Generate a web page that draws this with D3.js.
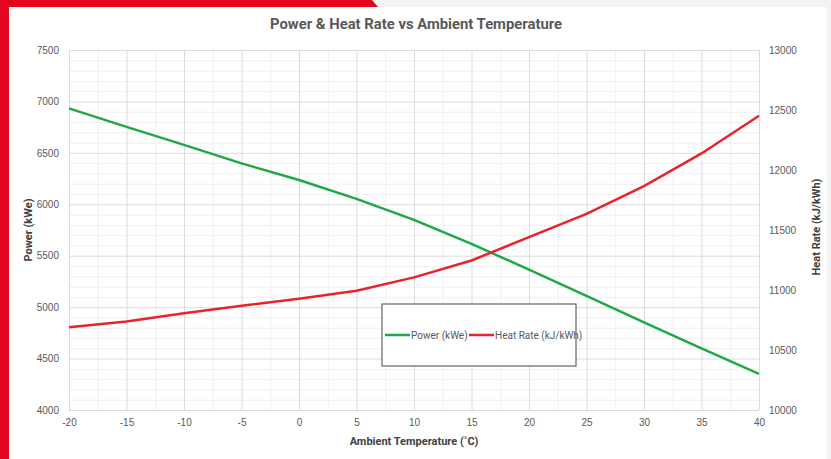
<!DOCTYPE html>
<html>
<head>
<meta charset="utf-8">
<script src="https://cdn.jsdelivr.net/npm/d3@7"></script>
<style>
  body { margin: 0; background: #f3f3f3; }
  svg { display: block; font-family: Roboto, "Open Sans", sans-serif; }
</style>
</head>
<body>
<div class="chart"></div>
<script>
// data
const temps = [-20, -15, -10, -5, 0, 5, 10, 15, 20, 25, 30, 35, 40];
const power = [6932, 6753, 6578, 6398, 6236, 6052, 5848, 5615, 5365, 5110, 4853, 4600, 4352];
const heatRate = [10690, 10738, 10806, 10868, 10927, 10993, 11105, 11246, 11440, 11634, 11866, 12138, 12452];
const xTicks = [-20, -15, -10, -5, 0, 5, 10, 15, 20, 25, 30, 35, 40];
const leftTicks = [4000, 4500, 5000, 5500, 6000, 6500, 7000, 7500];
const rightTicks = [10000, 10500, 11000, 11500, 12000, 12500, 13000];

const width = 831;
const height = 459;
const margin = { top: 50, right: 72, bottom: 49, left: 69 };
const chart_width = width - margin.left - margin.right;
const chart_height = height - margin.top - margin.bottom;

const svg = d3.select('.chart').append('svg')
  .attr('width', width).attr('height', height);

// page frame: red strips + white card
svg.append('rect').attr('x', 0).attr('y', 0).attr('width', width).attr('height', height).attr('fill', '#f3f3f3');
svg.append('path').attr('d', 'M0,0 H372 L378,7 H0 Z').attr('fill', '#e2061f');
svg.append('rect').attr('x', 9).attr('y', 7).attr('width', 818).attr('height', height - 7).attr('fill', '#fff');
svg.append('rect').attr('x', 0).attr('y', 0).attr('width', 9).attr('height', height).attr('fill', '#e2061f');

const g = svg.append('g').attr('transform', `translate(${margin.left},${margin.top})`);

const x = d3.scaleLinear().domain([-20, 40]).range([0, chart_width]);
const yL = d3.scaleLinear().domain([4000, 7500]).range([chart_height, 0]);
const yR = d3.scaleLinear().domain([10000, 13000]).range([chart_height, 0]);

// minor grid
g.append('g').attr('class', 'minor-x')
  .call(d3.axisBottom(x).tickValues(d3.range(-17.5, 40, 5)).tickSize(chart_height).tickFormat(''))
  .call(a => a.select('.domain').remove())
  .call(a => a.selectAll('line').attr('stroke', '#efefef'));
g.append('g').attr('class', 'minor-y')
  .call(d3.axisRight(yL).tickValues(d3.range(4100, 7500, 100).filter(v => v % 500 !== 0)).tickSize(chart_width).tickFormat(''))
  .call(a => a.select('.domain').remove())
  .call(a => a.selectAll('line').attr('stroke', '#efefef'));

// major grid
g.append('g').attr('class', 'major-x')
  .call(d3.axisBottom(x).tickValues(xTicks).tickSize(chart_height).tickFormat(''))
  .call(a => a.select('.domain').remove())
  .call(a => a.selectAll('line').attr('stroke', '#dcdcdc'));
g.append('g').attr('class', 'major-y')
  .call(d3.axisRight(yL).tickValues(leftTicks).tickSize(chart_width).tickFormat(''))
  .call(a => a.select('.domain').remove())
  .call(a => a.selectAll('line').attr('stroke', '#dcdcdc'));

// axes (labels only)
const fmt = d => String(d);
const labelStyle = a => {
  a.select('.domain').remove();
  a.selectAll('line').remove();
  a.selectAll('text').attr('fill', '#595959').style('font-size', '10px');
};
g.append('g').attr('transform', `translate(0,${chart_height})`)
  .call(d3.axisBottom(x).tickValues(xTicks).tickFormat(fmt).tickSize(0).tickPadding(9))
  .call(labelStyle);
g.append('g')
  .call(d3.axisLeft(yL).tickValues(leftTicks).tickFormat(fmt).tickSize(0).tickPadding(10))
  .call(labelStyle);
g.append('g').attr('transform', `translate(${chart_width},0)`)
  .call(d3.axisRight(yR).tickValues(rightTicks).tickFormat(fmt).tickSize(0).tickPadding(10))
  .call(labelStyle);

// lines
const lineP = d3.line().x((d, i) => x(temps[i])).y(d => yL(d));
const lineH = d3.line().x((d, i) => x(temps[i])).y(d => yR(d));
g.append('path').datum(power).attr('d', lineP)
  .attr('fill', 'none').attr('stroke', '#1fa84a').attr('stroke-width', 2.5).attr('stroke-linejoin', 'round');
g.append('path').datum(heatRate).attr('d', lineH)
  .attr('fill', 'none').attr('stroke', '#e8232b').attr('stroke-width', 2.5).attr('stroke-linejoin', 'round');

// titles
svg.append('text').attr('x', 416).attr('y', 29).attr('text-anchor', 'middle')
  .attr('fill', '#595959').style('font-size', '15px').style('font-weight', 'bold')
  .attr('textLength', 292).attr('lengthAdjust', 'spacingAndGlyphs')
  .text('Power & Heat Rate vs Ambient Temperature');
svg.append('text').attr('x', 414).attr('y', 445).attr('text-anchor', 'middle')
  .attr('fill', '#404040').style('font-size', '11px').style('font-weight', 'bold')
  .text('Ambient Temperature (˚C)');
svg.append('text').attr('transform', 'translate(32,230) rotate(-90)').attr('text-anchor', 'middle')
  .attr('fill', '#404040').style('font-size', '11px').style('font-weight', 'bold')
  .text('Power (kWe)');
svg.append('text').attr('transform', 'translate(820,227) rotate(-90)').attr('text-anchor', 'middle')
  .attr('fill', '#404040').style('font-size', '11px').style('font-weight', 'bold')
  .text('Heat Rate (kJ/kWh)');

// legend
const lg = svg.append('g').attr('transform', 'translate(382,304)');
lg.append('rect').attr('width', 194).attr('height', 62)
  .attr('fill', '#fff').attr('stroke', '#444').attr('stroke-width', 1);
const items = [
  { label: 'Power (kWe)', color: '#1fa84a', x0: 3 },
  { label: 'Heat Rate (kJ/kWh)', color: '#e8232b', x0: 87 }
];
items.forEach(it => {
  lg.append('line').attr('x1', it.x0).attr('x2', it.x0 + 25).attr('y1', 31).attr('y2', 31)
    .attr('stroke', it.color).attr('stroke-width', 2.5);
  lg.append('text').attr('x', it.x0 + 26).attr('y', 34.5)
    .attr('fill', '#595959').style('font-size', '10px').text(it.label);
});
</script>
</body>
</html>
